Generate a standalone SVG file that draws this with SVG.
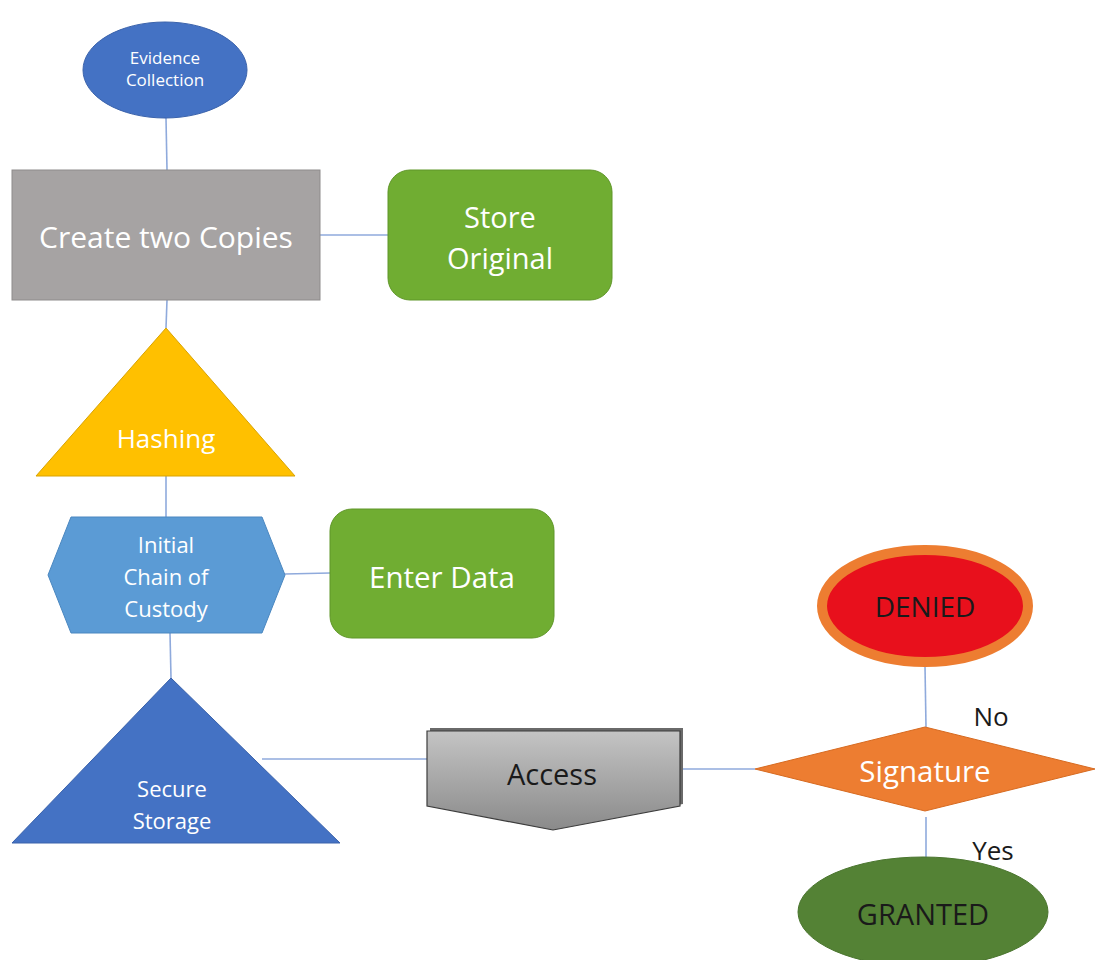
<svg xmlns="http://www.w3.org/2000/svg" width="1096" height="960" viewBox="0 0 1096 960">
  <defs>
    <linearGradient id="accessFill" x1="0" y1="0" x2="0" y2="1">
      <stop offset="0" stop-color="#c4c4c4"/>
      <stop offset="1" stop-color="#8a8a8a"/>
    </linearGradient>
    <style>
      .lbl { font-family: "Open Sans", Lato, "Liberation Sans", sans-serif; text-anchor: middle; dominant-baseline: central; }
      .w { fill: #ffffff; }
      .k { fill: #1a1a1a; }
      .conn { stroke: #8faadc; stroke-width: 1.6; fill: none; }
    </style>
  </defs>
  <rect width="1096" height="960" fill="#ffffff"/>

  <!-- connectors -->
  <g id="connectors">
    <line class="conn" x1="166" y1="118" x2="167" y2="170"/>
    <line class="conn" x1="320" y1="235" x2="388" y2="235"/>
    <line class="conn" x1="167" y1="300" x2="166" y2="328"/>
    <line class="conn" x1="166" y1="476" x2="166" y2="517"/>
    <line class="conn" x1="285" y1="574" x2="330" y2="573"/>
    <line class="conn" x1="170" y1="633" x2="171" y2="678"/>
    <line class="conn" x1="262" y1="759" x2="427" y2="759"/>
    <line class="conn" x1="680" y1="769" x2="755" y2="769"/>
    <line class="conn" x1="925" y1="666" x2="926" y2="727"/>
    <line class="conn" x1="926" y1="817" x2="926" y2="858"/>
  </g>

  <g id="evidence-collection">
    <ellipse cx="165" cy="70" rx="82" ry="48" fill="#4472c4" stroke="#3a62ab" stroke-width="1"/>
    <text class="lbl w" x="165" y="57" font-size="17">Evidence</text>
    <text class="lbl w" x="165" y="79" font-size="17">Collection</text>
  </g>

  <g id="create-two-copies">
    <rect x="12" y="170" width="308" height="130" fill="#a6a3a3" stroke="#8e8b8b" stroke-width="1"/>
    <text class="lbl w" x="166" y="236" font-size="30">Create two Copies</text>
  </g>

  <g id="store-original">
    <rect x="388" y="170" width="224" height="130" rx="22" fill="#70ad32" stroke="#5f9628" stroke-width="1"/>
    <text class="lbl w" x="500" y="216" font-size="29">Store</text>
    <text class="lbl w" x="500" y="257" font-size="29">Original</text>
  </g>

  <g id="hashing">
    <polygon points="166,328 295,476 36,476" fill="#ffc000" stroke="#d9a300" stroke-width="1"/>
    <text class="lbl w" x="166" y="438" font-size="26">Hashing</text>
  </g>

  <g id="initial-chain-of-custody">
    <polygon points="48,575 71,517 262,517 285,575 262,633 71,633" fill="#5b9bd5" stroke="#4a87c0" stroke-width="1"/>
    <text class="lbl w" x="166" y="544" font-size="22">Initial</text>
    <text class="lbl w" x="166" y="576" font-size="22">Chain of</text>
    <text class="lbl w" x="166" y="608" font-size="22">Custody</text>
  </g>

  <g id="enter-data">
    <rect x="330" y="509" width="224" height="129" rx="22" fill="#70ad32" stroke="#5f9628" stroke-width="1"/>
    <text class="lbl w" x="442" y="576" font-size="29.5">Enter Data</text>
  </g>

  <g id="secure-storage">
    <polygon points="171,678 340,843 12,843" fill="#4472c4" stroke="#3a62ab" stroke-width="1"/>
    <text class="lbl w" x="172" y="788" font-size="22">Secure</text>
    <text class="lbl w" x="172" y="820" font-size="22">Storage</text>
  </g>

  <g id="access">
    <polygon points="430,728 683,728 683,804 556,827 430,804" fill="#6a6a6a"/>
    <polygon points="427,731 680,731 680,806 553,830 427,806" fill="url(#accessFill)" stroke="#3c3c3c" stroke-width="1.2"/>
    <text class="lbl k" x="552" y="773" font-size="29">Access</text>
  </g>

  <g id="signature">
    <polygon points="755,769 925,727 1095,769 925,811" fill="#ed7d31" stroke="#d66a20" stroke-width="1"/>
    <text class="lbl w" x="925" y="770" font-size="29.5">Signature</text>
  </g>

  <g id="denied">
    <ellipse cx="925" cy="606" rx="103" ry="56" fill="#e8101c" stroke="#ed7d31" stroke-width="10"/>
    <text class="lbl k" x="925" y="606" font-size="28">DENIED</text>
  </g>

  <g id="granted">
    <ellipse cx="923" cy="912" rx="125" ry="55" fill="#548235" stroke="#4a752e" stroke-width="1"/>
    <text class="lbl k" x="923" y="913" font-size="29">GRANTED</text>
  </g>

  <g id="edge-labels">
    <text class="lbl k" x="991" y="716" font-size="26">No</text>
    <text class="lbl k" x="993" y="850" font-size="26">Yes</text>
  </g>
</svg>
